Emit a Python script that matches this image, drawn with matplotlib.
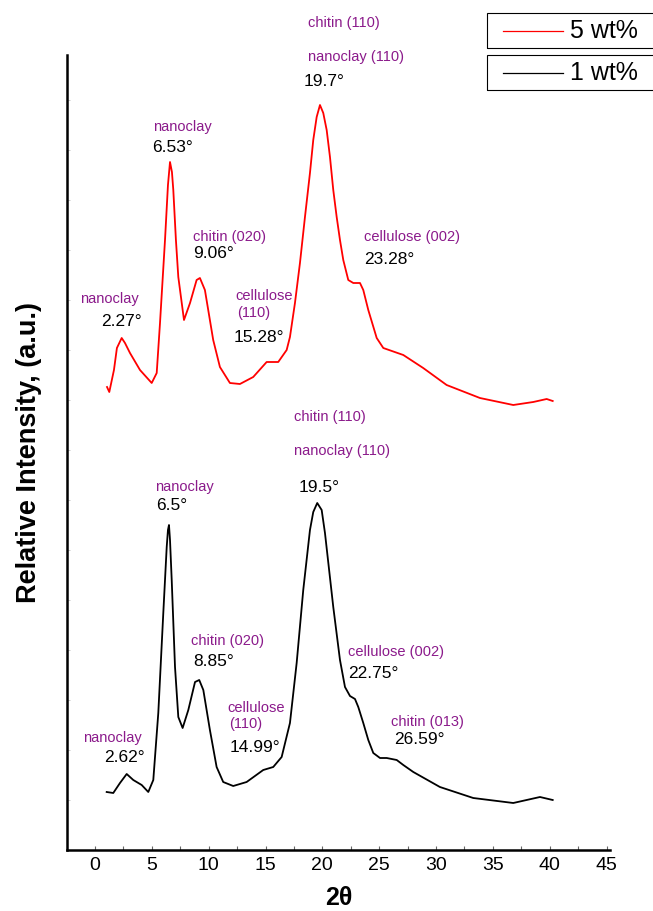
import matplotlib
matplotlib.use("Agg")
import matplotlib.pyplot as plt
from matplotlib.patches import Rectangle
from matplotlib.lines import Line2D
from matplotlib.ticker import MultipleLocator

plt.rcParams['font.family'] = ['Liberation Sans', 'DejaVu Sans']

# 5 wt% (red) trace (intensity in arbitrary units)
x_5 = [1.06, 1.26, 1.67, 1.93, 2.35, 2.64, 3.08, 3.96, 4.99, 5.43, 5.72, 6.16, 6.42,
       6.6, 6.77, 6.89, 7.12, 7.33, 7.83, 8.36, 8.94, 9.23, 9.67, 10.4, 10.99, 11.87,
       12.75, 13.92, 15.1, 16.12, 16.86, 17.15, 17.59, 18.03, 18.47, 18.91, 19.2, 19.5,
       19.79, 20.08, 20.38, 20.67, 20.96, 21.26, 21.55, 21.84, 22.28, 22.72, 23.31,
       23.6, 24.04, 24.78, 25.36, 27.12, 28.87, 30.93, 33.86, 36.79, 38.55, 39.73, 40.26]
y_5 = [463, 458, 480, 502, 512, 507, 497, 480, 467, 477, 527, 610, 665,
       688, 678, 660, 610, 573, 530, 547, 570, 572, 560, 510, 483, 467,
       466, 473, 488, 488, 500, 513, 547, 587, 633, 677, 710, 733,
       745, 737, 720, 693, 660, 633, 610, 590, 570, 567, 567,
       560, 540, 512, 502, 495, 482, 465, 452, 445, 448, 451, 449]

# 1 wt% (black) trace
x_1 = [1.03, 1.61, 2.2, 2.79, 3.37, 4.11, 4.69, 5.13, 5.57, 6.01, 6.31, 6.42, 6.51,
       6.6, 6.75, 7.04, 7.33, 7.71, 8.21, 8.8, 9.17, 9.53, 10.11, 10.7, 11.28, 12.16,
       13.34, 14.8, 15.68, 16.42, 17.15, 17.74, 18.32, 18.91, 19.2, 19.55, 19.94, 20.23,
       20.96, 21.55, 21.99, 22.43, 22.87, 23.16, 23.6, 24.04, 24.48, 25.07, 25.66,
       26.54, 27.12, 28.0, 30.34, 33.27, 36.79, 39.14, 40.26]
y_1 = [58, 57, 67, 76, 70, 65, 58, 70, 137, 237, 303, 320, 325,
       310, 270, 183, 133, 122, 140, 168, 170, 160, 120, 83, 68, 64,
       68, 80, 83, 93, 127, 187, 260, 320, 338, 347, 340, 317,
       243, 190, 163, 154, 151, 143, 127, 110, 97, 92, 92,
       90, 85, 78, 63, 52, 47, 53, 50]

# peak assignments (purple) and peak positions (black): (x, y, text)
names_5 = [(-1.32, 551, "nanoclay"), (5.13, 723, "nanoclay"), (8.59, 613, "chitin (020)"),
           (12.37, 554, "cellulose"), (12.46, 537, "(110)"), (18.73, 827, "chitin (110)"),
           (18.73, 793, "nanoclay (110)"), (23.66, 613, "cellulose (002)")]
angles_5 = [(0.5, 529, "2.27°"), (5.07, 703, "6.53°"), (8.65, 596, "9.06°"),
            (12.22, 513, "15.28°"), (18.38, 768, "19.7°"), (23.66, 591, "23.28°")]
names_1 = [(-1.08, 112, "nanoclay"), (5.28, 363, "nanoclay"), (8.42, 209, "chitin (020)"),
           (11.64, 142, "cellulose"), (11.81, 126, "(110)"), (17.5, 433, "chitin (110)"),
           (17.5, 399, "nanoclay (110)"), (22.23, 198, "cellulose (002)"),
           (26.0, 128, "chitin (013)")]
angles_1 = [(0.82, 92, "2.62°"), (5.37, 344, "6.5°"), (8.65, 188, "8.85°"),
            (11.87, 103, "14.99°"), (17.88, 363, "19.5°"), (22.23, 176, "22.75°"),
            (26.32, 111, "26.59°")]

purple = '#8b1a8b'

fig = plt.figure(figsize=(6.53, 9.11), dpi=100)
ax = fig.add_axes([67/653, 61/911, 543/653, 795/911])

ax.plot(x_5, y_5, color='red', lw=1.3)
ax.plot(x_1, y_1, color='black', lw=1.3)

ax.set_xlim(-2.46, 45.3)
ax.set_ylim(0, 795)

for x, y, t in names_5 + names_1:
    ax.text(x, y, t, color=purple, fontsize=10.5, ha='left', va='center')
for x, y, t in angles_5 + angles_1:
    ax.text(x, y, t, color='black', fontsize=12.5, ha='left', va='center')

for s in ['top', 'right']:
    ax.spines[s].set_visible(False)
for s in ['left', 'bottom']:
    ax.spines[s].set_linewidth(1.8)

ax.xaxis.set_major_locator(MultipleLocator(5))
ax.xaxis.set_minor_locator(MultipleLocator(2.5))
ax.tick_params(axis='x', which='both', direction='in', length=3, width=0.8,
               labelsize=14, pad=5, color='0.4')
ax.yaxis.set_major_locator(MultipleLocator(50))
ax.tick_params(axis='y', which='both', direction='in', length=2, width=0.5,
               color='0.7', labelleft=False)

ax.set_xlabel("2θ", fontsize=18, fontweight='bold', labelpad=9)
ax.set_ylabel("Relative Intensity, (a.u.)", fontsize=19.5, fontweight='bold', labelpad=18)

# legend boxes at top right (run off the right edge as in the original)
for top, col, name in [(13, 'red', '5 wt%'), (55, 'black', '1 wt%')]:
    h = 35
    fig.add_artist(Rectangle((487/653, 1 - (top + h)/911), 250/653, h/911,
                             transform=fig.transFigure, fill=False,
                             edgecolor='black', lw=0.8))
    yc = 1 - (top + h/2)/911
    fig.add_artist(Line2D([503/653, 563/653], [yc, yc], transform=fig.transFigure,
                          color=col, lw=0.9))
    fig.text(570/653, yc, name, fontsize=18, ha='left', va='center')

fig.savefig("out.png", dpi=100)
